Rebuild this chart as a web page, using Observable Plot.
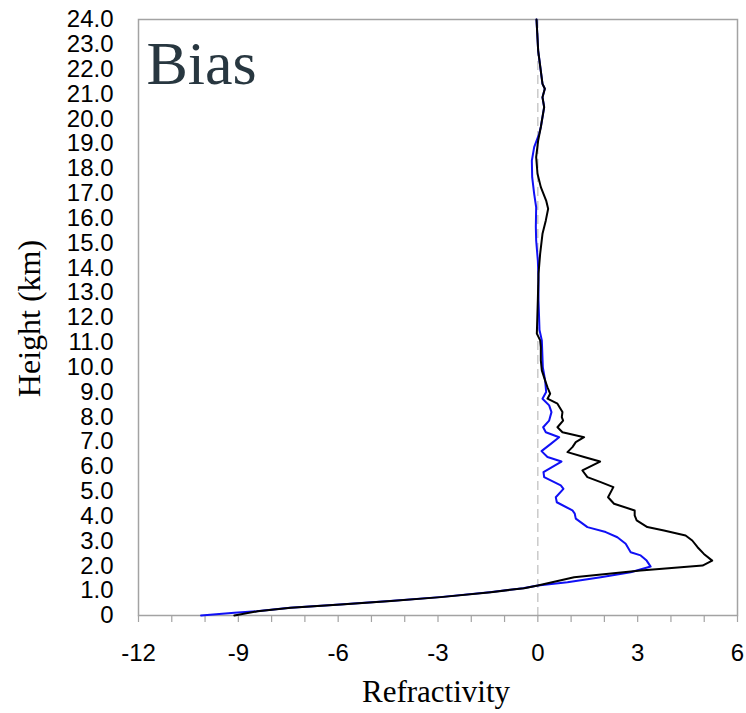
<!DOCTYPE html>
<html>
<head>
<meta charset="utf-8">
<script src="https://cdn.jsdelivr.net/npm/d3@7"></script>
<script src="https://cdn.jsdelivr.net/npm/@observablehq/plot@0.6"></script>
<style>
  html, body { margin: 0; padding: 0; background: #fff; }
  #chart svg { display: block; }
</style>
</head>
<body>
<div id="chart"></div>
<script>
// Heights (km) and bias values for the black series
const blackHeight = [0, 0.17, 0.31, 0.44, 0.58, 0.74, 0.94, 1.1, 1.21, 1.54, 1.81, 2.01, 2.21, 2.48, 2.75, 3.02, 3.22, 3.42, 3.56, 3.83, 4.03, 4.23, 4.5, 4.76, 5.17, 5.37, 5.57, 5.84, 6.2, 6.38, 6.58, 6.78, 6.98, 7.18, 7.38, 7.58, 7.85, 7.99, 8.19, 8.53, 8.73, 8.93, 9.19, 9.46, 9.87, 10.27, 10.81, 11.08, 11.35, 12.69, 13.76, 14.57, 15.37, 15.91, 16.38, 16.71, 17.25, 17.79, 18.46, 19.13, 19.67, 20.47, 20.87, 21.21, 21.41, 22.75, 24.0];
const blackBias = [-9.12, -8.42, -7.42, -5.92, -4.41, -2.91, -1.41, -0.41, 0.0, 1.09, 3.09, 4.95, 5.24, 4.99, 4.80, 4.64, 4.44, 3.79, 3.29, 2.97, 2.91, 2.91, 2.29, 2.11, 2.27, 1.89, 1.49, 1.34, 1.87, 1.39, 0.89, 1.04, 1.14, 1.39, 0.74, 0.59, 0.76, 0.72, 0.74, 0.59, 0.29, 0.37, 0.29, 0.22, 0.12, 0.09, 0.09, 0.07, -0.03, 0.0, 0.02, 0.07, 0.14, 0.24, 0.31, 0.25, 0.09, -0.01, -0.05, 0.01, 0.09, 0.19, 0.14, 0.21, 0.14, 0.01, -0.04];

// Heights (km) and bias values for the blue series
const blueHeight = [0, 0.11, 0.17, 0.31, 0.44, 0.58, 0.74, 0.94, 1.1, 1.21, 1.34, 1.54, 1.74, 1.97, 2.21, 2.42, 2.55, 2.89, 3.15, 3.36, 3.56, 3.9, 4.1, 4.23, 4.56, 4.76, 5.1, 5.24, 5.57, 5.77, 6.2, 6.38, 6.62, 6.91, 7.18, 7.38, 7.58, 7.85, 8.19, 8.46, 8.73, 9.0, 9.46, 10.0, 11.08, 11.5, 12.69, 13.6, 14.3, 15.1, 15.64, 16.44, 16.98, 17.65, 18.32, 18.86, 19.4, 19.67, 20.47, 20.87, 21.21, 21.41, 22.75, 24.0];
const blueBias = [-10.12, -9.12, -8.45, -7.45, -5.95, -4.45, -2.95, -1.45, -0.45, 0.0, 0.89, 1.89, 2.79, 3.39, 3.27, 3.09, 2.79, 2.64, 2.39, 2.04, 1.49, 1.14, 1.11, 1.04, 0.57, 0.54, 0.77, 0.69, 0.19, 0.17, 0.71, 0.29, 0.11, 0.39, 0.64, 0.24, 0.16, 0.34, 0.41, 0.34, 0.14, 0.25, 0.22, 0.15, 0.12, 0.05, 0.02, 0.02, 0.0, -0.05, -0.06, -0.05, -0.11, -0.17, -0.18, -0.11, 0.04, 0.09, 0.19, 0.14, 0.21, 0.14, 0.01, -0.04];

// Tick values
const xMinorTicks = [-12, -11, -10, -9, -8, -7, -6, -5, -4, -3, -2, -1, 0, 1, 2, 3, 4, 5, 6];
const xLabelTicks = [-12, -9, -6, -3, 0, 3, 6];
const yTicks = [0, 1, 2, 3, 4, 5, 6, 7, 8, 9, 10, 11, 12, 13, 14, 15, 16, 17, 18, 19, 20, 21, 22, 23, 24];

const titleText = "Bias";
const xLabel = "Refractivity";
const yLabel = "Height (km)";

const black = blackHeight.map((h, i) => ({h, v: blackBias[i]}));
const blue = blueHeight.map((h, i) => ({h, v: blueBias[i]}));

const serif = "'Liberation Serif', 'Times New Roman', serif";

const chart = Plot.plot({
  width: 746,
  height: 713,
  marginLeft: 138,
  marginRight: 9,
  marginTop: 19,
  marginBottom: 98,
  style: {fontFamily: "'Liberation Sans', Arial, Helvetica, sans-serif", fontSize: "24px", color: "black", background: "white"},
  x: {domain: [-12, 6]},
  y: {domain: [0, 24]},
  marks: [
    Plot.ruleX([0], {stroke: "#bdbdbd", strokeWidth: 1.2, strokeDasharray: "9,5"}),
    Plot.frame({stroke: "#a3a3a3", strokeWidth: 1.5}),
    Plot.axisX(xMinorTicks, {tickSize: 7, tickFormat: () => "", stroke: "#a3a3a3", strokeWidth: 1.2, label: null}),
    Plot.axisX(xLabelTicks, {tickSize: 0, tickPadding: 28, label: null, fill: "black",
      tickFormat: d => String(d)}),
    Plot.axisY(yTicks, {tickSize: 0, tickPadding: 25, label: null, fill: "black",
      tickFormat: d => d === 0 ? "0" : d.toFixed(1)}),
    Plot.line(blue, {x: "v", y: "h", stroke: "#1010f5", strokeWidth: 2}),
    Plot.line(black, {x: "v", y: "h", stroke: "#000", strokeWidth: 2}),
    Plot.text([titleText], {frameAnchor: "top-left", text: d => d, dx: 8, dy: 45,
      textAnchor: "start", lineAnchor: "middle", fontSize: 62, fontFamily: serif, fill: "#283740"}),
    Plot.text([xLabel], {frameAnchor: "bottom", text: d => d, dx: -2, dy: 77,
      textAnchor: "middle", lineAnchor: "middle", fontSize: 31, fontFamily: serif, fill: "black"}),
    Plot.text([yLabel], {frameAnchor: "left", text: d => d, rotate: -90, dx: -109, dy: 1,
      textAnchor: "middle", lineAnchor: "middle", fontSize: 32, fontFamily: serif, fill: "black"})
  ]
});
document.getElementById("chart").appendChild(chart);
</script>
</body>
</html>
